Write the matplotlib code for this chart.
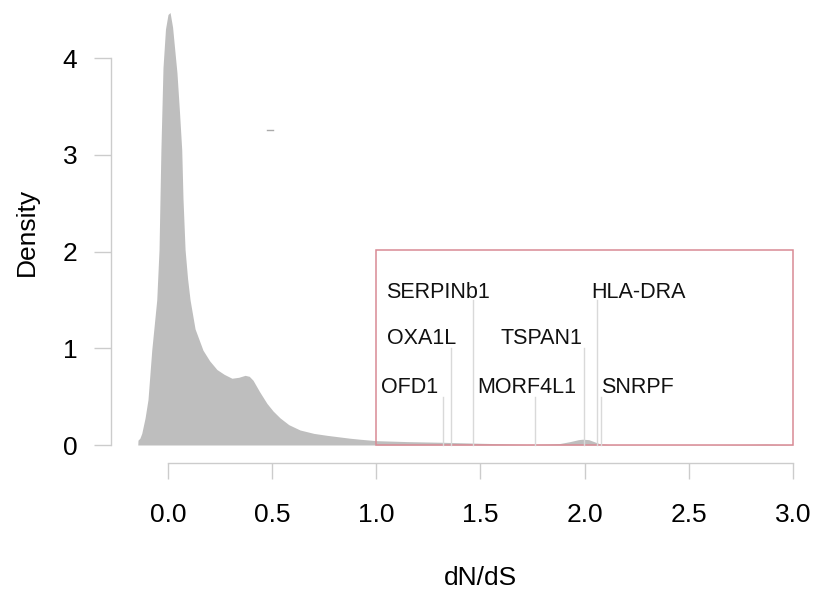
import matplotlib
matplotlib.use("Agg")
import matplotlib.pyplot as plt
from matplotlib.patches import Rectangle

plt.rcParams['font.family'] = ['Liberation Sans', 'DejaVu Sans']

# density curve of dN/dS
dnds = [-0.145, -0.144, -0.135, -0.126, -0.11, -0.096, -0.078, -0.054, -0.043,
        -0.034, -0.024, -0.012, 0.0, 0.01, 0.022, 0.034, 0.043, 0.055, 0.066,
        0.072, 0.082, 0.094, 0.106, 0.13, 0.168, 0.2, 0.235, 0.27, 0.307,
        0.34, 0.37, 0.39, 0.408, 0.44, 0.475, 0.505, 0.538, 0.58, 0.634,
        0.7, 0.763, 0.874, 0.92, 1.0, 1.15, 1.32, 1.5, 1.72, 1.82, 1.88,
        1.93, 1.97, 1.99, 2.02, 2.07, 2.12, 2.3, 2.6, 2.8, 2.87, 2.93, 3.0]
density = [0.0, 0.05, 0.07, 0.12, 0.28, 0.47, 0.98, 1.50, 2.02,
           3.05, 3.9, 4.3, 4.45, 4.47, 4.32, 4.05, 3.85, 3.45, 3.05,
           2.55, 2.02, 1.72, 1.50, 1.2, 0.98, 0.87, 0.78, 0.73, 0.69,
           0.70, 0.72, 0.71, 0.67, 0.55, 0.43, 0.35, 0.28, 0.21, 0.155,
           0.12, 0.10, 0.07, 0.06, 0.045, 0.035, 0.028, 0.018, 0.007, 0.01, 0.015,
           0.035, 0.055, 0.06, 0.055, 0.015, 0.004, 0.003, 0.003, 0.006, 0.009, 0.006, 0.004]

genes = ['OFD1', 'OXA1L', 'SERPINb1', 'MORF4L1', 'TSPAN1', 'HLA-DRA', 'SNRPF']
gene_x = [1.319, 1.359, 1.463, 1.76, 1.997, 2.061, 2.077]
gene_h = [0.5, 1.0, 1.5, 0.5, 1.0, 1.5, 0.5]
label_x = [1.162, 1.219, 1.296, 1.723, 1.791, 2.261, 2.256]
label_y = [0.59, 1.106, 1.58, 0.59, 1.106, 1.58, 0.59]

box_x = [1.0, 3.0]
box_y = [0.0, 2.015]

# small stray dash above the curve
dash_x = [0.474, 0.506]
dash_y = [3.256, 3.256]

fig = plt.figure(figsize=(8.14, 5.96), dpi=100)
ax = fig.add_axes([111 / 814, 1 - 452 / 596, 689 / 814, 447 / 596])

ax.fill_between(dnds, density, 0, color='#bebebe', linewidth=0)

for gx, gh in zip(gene_x, gene_h):
    ax.plot([gx, gx], [0, gh], color='#d9d9d9', linewidth=1)
for name, lx, ly in zip(genes, label_x, label_y):
    ax.text(lx, ly, name, fontsize=15.5, ha='center', va='center', color='#111111')

ax.plot(dash_x, dash_y, color='#aaaaaa', linewidth=1)

ax.add_patch(Rectangle((box_x[0], box_y[0]), box_x[1] - box_x[0], box_y[1] - box_y[0],
                       fill=False, edgecolor='#d98a94', linewidth=1.1))

ax.set_xlim(-0.2736, 3.034)
ax.set_ylim(-0.0723, 4.548)

for s in ['top', 'right']:
    ax.spines[s].set_visible(False)
ax.spines['left'].set_bounds(0, 4)
ax.spines['bottom'].set_bounds(0, 3)
ax.spines['bottom'].set_position(('outward', 7.9))
for s in ['left', 'bottom']:
    ax.spines[s].set_color('#cccccc')
    ax.spines[s].set_linewidth(1)

ax.set_xticks([0.0, 0.5, 1.0, 1.5, 2.0, 2.5, 3.0])
ax.set_xticklabels(['0.0', '0.5', '1.0', '1.5', '2.0', '2.5', '3.0'])
ax.set_yticks([0, 1, 2, 3, 4])
ax.tick_params(axis='x', length=11.5, width=1, color='#cccccc', pad=17, labelsize=19)
ax.tick_params(axis='y', length=12.2, width=1, color='#cccccc', pad=12, labelsize=19)

fig.text(27 / 814, 1 - 232 / 596, 'Density', rotation=90, fontsize=19,
         ha='center', va='center')
fig.text(480 / 814, 1 - 578 / 596, 'dN/dS', fontsize=19, ha='center', va='center')

fig.savefig('out.png', dpi=100)
